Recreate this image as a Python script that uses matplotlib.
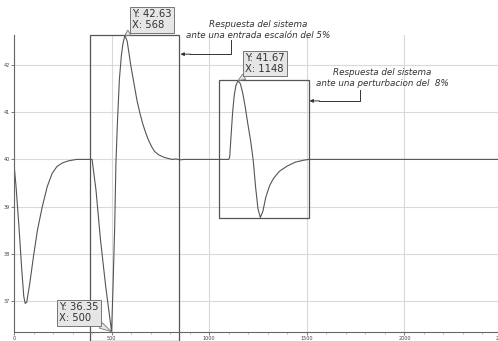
import matplotlib
matplotlib.use('Agg')
import matplotlib.pyplot as plt
from matplotlib.patches import Rectangle
from matplotlib.ticker import MultipleLocator

# respuesta del sistema
t = [0, 10, 25, 40, 50, 57, 65, 80, 100, 120, 145, 170, 195, 220, 250, 280, 320, 400,
     420, 443, 470, 500, 508, 516, 522, 530, 540, 550, 558, 568, 580, 598, 615, 630,
     645, 660, 675, 690, 705, 720, 740, 765, 790, 810, 830, 850, 870, 1100,
     1105, 1112, 1120, 1128, 1137, 1148, 1160, 1172, 1185, 1198, 1212, 1225, 1238,
     1250, 1262, 1275, 1290, 1310, 1330, 1360, 1400, 1440, 1480, 1510, 2500]
y = [39.9, 39.45, 38.6, 37.65, 37.1, 36.95, 36.97, 37.35, 37.95, 38.5, 39.0, 39.42,
     39.7, 39.85, 39.93, 39.97, 40.0, 40.0,
     39.35, 38.3, 37.3, 36.35, 37.4, 38.6, 39.9, 40.8, 41.7, 42.2, 42.45, 42.63, 42.5,
     42.0, 41.6, 41.25, 40.98, 40.75, 40.56, 40.4, 40.27, 40.17, 40.1, 40.05, 40.02,
     40.0, 40.01, 39.99, 40.0, 40.0,
     40.05, 40.5, 41.0, 41.35, 41.57, 41.67, 41.6, 41.4, 41.1, 40.75, 40.4, 40.0, 39.4,
     38.95, 38.77, 38.9, 39.2, 39.45, 39.6, 39.75, 39.86, 39.94, 39.98, 40.0, 40.0]

# puntos marcados
marks_x = [568, 1148, 500]
marks_y = [42.63, 41.67, 36.35]
marks_text_pos = [(705, 42.96), (1286, 42.03), (331, 36.75)]

notes = ['Respuesta del sistema\nante una entrada escalón del 5%',
         'Respuesta del sistema\nante una perturbacion del  8%']

fig = plt.figure(figsize=(4.98, 3.41), dpi=100)
ax = fig.add_axes([14/498, 9/341, 488/498, 297/341])

ax.plot(t, y, color='#555555', linewidth=0.8)

ax.set_xlim(0, 2500)
ax.set_ylim(36.343, 42.636)
ax.xaxis.set_major_locator(MultipleLocator(500))
ax.xaxis.set_minor_locator(MultipleLocator(100))
ax.yaxis.set_major_locator(MultipleLocator(1))
ax.grid(True, color='#d9d9d9', linewidth=0.8)
ax.set_axisbelow(True)
for s in ['top', 'right']:
    ax.spines[s].set_visible(False)
for s in ['left', 'bottom']:
    ax.spines[s].set_color('#666666')
    ax.spines[s].set_linewidth(0.8)
ax.tick_params(labelsize=3.5, length=2, width=0.5, pad=1, colors='#444444')
ax.tick_params(which='minor', length=1.2, width=0.4, colors='#888888')

# recuadros
ax.add_patch(Rectangle((388, 36.15), 455, 42.636 - 36.15, fill=False,
                       edgecolor='#555555', linewidth=0.9, clip_on=False))
ax.add_patch(Rectangle((1052, 38.75), 457, 41.68 - 38.75, fill=False,
                       edgecolor='#555555', linewidth=0.9, clip_on=False))

# notas con flecha
ax.text(1253, 42.745, notes[0], ha='center', va='center', fontsize=6.3,
        style='italic', color='#333333', linespacing=1.3, clip_on=False)
ax.plot([1110, 1110, 900], [42.53, 42.23, 42.23], color='#333333', linewidth=0.7,
        clip_on=False)
ax.annotate('', xy=(853, 42.23), xytext=(905, 42.23),
            arrowprops=dict(arrowstyle='-|>', color='#333333', lw=0.7,
                            mutation_scale=5, shrinkA=0, shrinkB=0))

ax.text(1888, 41.725, notes[1], ha='center', va='center', fontsize=6.3,
        style='italic', color='#333333', linespacing=1.3)
ax.plot([1775, 1775, 1560], [41.47, 41.24, 41.24], color='#333333', linewidth=0.7)
ax.annotate('', xy=(1514, 41.24), xytext=(1565, 41.24),
            arrowprops=dict(arrowstyle='-|>', color='#333333', lw=0.7,
                            mutation_scale=5, shrinkA=0, shrinkB=0))

# etiquetas de datos
for mx, my, pos in zip(marks_x, marks_y, marks_text_pos):
    ax.annotate('Y: %.2f\nX: %d' % (my, mx), xy=(mx, my), xytext=pos,
                ha='center', va='center', multialignment='left', fontsize=7.2,
                color='#333333', linespacing=1.15, annotation_clip=False,
                bbox=dict(boxstyle='square,pad=0.22', fc='#e6e6e6', ec='#777777', lw=0.7),
                arrowprops=dict(arrowstyle='wedge,tail_width=0.6', fc='#e6e6e6',
                                ec='#777777', lw=0.6, shrinkA=0, shrinkB=0))

fig.savefig('out.png', dpi=100)
